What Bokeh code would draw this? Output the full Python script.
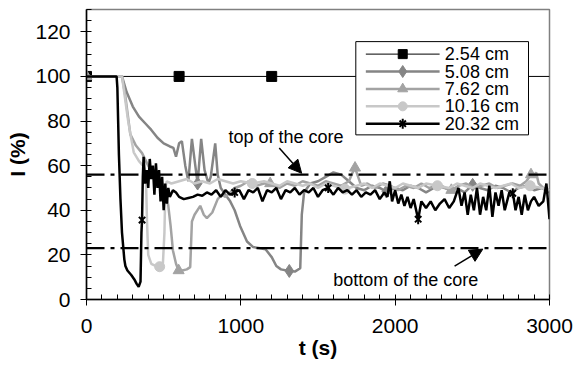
import math
from bokeh.plotting import figure
from bokeh.models import Range1d, FixedTicker, Span, Label, Arrow, NormalHead
from bokeh.core.properties import value
from bokeh.embed import file_html
from bokeh.resources import INLINE

FONT = "Liberation Sans"

# ---------------- data ----------------
x_ticks = [0, 1000, 2000, 3000]
y_ticks = [0, 20, 40, 60, 80, 100, 120]

labels = ["2.54 cm", "5.08 cm", "7.62 cm", "10.16 cm", "20.32 cm"]

t_254 = [0, 3000]
i_254 = [100, 100]
mt_254 = [0, 600, 1200, 1800, 2400]
mi_254 = [100, 100, 100, 100, 100]

t_508 = [0, 230, 260, 300, 340, 380, 420, 460, 500, 540, 563, 580, 600, 618, 640, 660,
         683, 705, 720, 743, 765, 790, 805, 834, 850, 870, 900, 931, 960, 995, 1040, 1080,
         1125, 1160, 1200, 1230, 1260, 1314, 1350, 1385, 1395, 1410, 1450, 1500, 1550, 1600,
         1650, 1700, 1750, 1800, 1850, 1900, 1943, 2000, 2050, 2100, 2150, 2200, 2250, 2300,
         2350, 2400, 2450, 2502, 2550, 2600, 2650, 2700, 2750, 2800, 2850, 2900, 2950, 3000]
i_508 = [100, 100, 93, 86.5, 82, 79, 76, 72.5, 70, 68.6, 68, 64, 70, 71, 60, 53,
         72, 60, 52, 72, 58, 52, 55, 70, 56, 50, 47, 44, 40, 33, 26, 23.5,
         23, 22.5, 19, 15, 13.5, 12.8, 12.5, 14, 38, 48, 52, 53, 55, 57,
         56, 53, 50, 49, 51, 50, 48.4, 50, 49, 51, 50, 48, 50, 51,
         49, 50, 48, 51.4, 50, 49, 51, 50, 48, 50, 51, 49, 50, 48]
mt_508 = [720, 1314, 1943, 2502]
mi_508 = [52, 12.8, 48.4, 51.4]

t_762 = [0, 230, 250, 284, 320, 360, 400, 440, 470, 490, 510, 530, 545, 560, 580, 597,
         620, 650, 672, 683, 700, 737, 760, 780, 815, 850, 877, 900, 931, 960, 1000, 1050,
         1100, 1150, 1190, 1250, 1300, 1350, 1400, 1450, 1500, 1550, 1600, 1650, 1700, 1725,
         1740, 1760, 1780, 1820, 1870, 1920, 1970, 2020, 2070, 2120, 2170, 2220, 2270, 2320,
         2364, 2410, 2460, 2510, 2560, 2610, 2660, 2710, 2760, 2810, 2850, 2880, 2900, 2913,
         2930, 2960, 3000]
i_762 = [100, 100, 92, 74, 69, 65.6, 60, 55, 53.6, 52, 50, 42, 33, 22, 16, 13,
         13, 13.5, 14.5, 35, 38, 42, 38, 36.5, 39, 45, 47, 46, 48, 50, 51, 53,
         51, 52, 52, 50, 52, 51, 53, 52, 51, 53, 52, 51, 53, 57,
         59, 55, 51, 52, 50, 52, 51, 49, 51, 50, 52, 50, 51, 50,
         49, 51, 52, 50, 51, 52, 50, 51, 52, 51, 53, 56, 55, 57,
         52, 50, 49]
mt_762 = [0, 597, 1190, 1740, 2364, 2880]
mi_762 = [100, 13, 52, 59, 49, 56]

t_1016 = [0, 230, 250, 270, 290, 306, 340, 370, 385, 392, 400, 420, 450, 474, 495, 505,
          511, 520, 550, 600, 650, 700, 750, 800, 850, 900, 950, 1000, 1074, 1150, 1200, 1250,
          1300, 1350, 1400, 1450, 1500, 1550, 1600, 1674, 1750, 1800, 1850, 1900, 1950, 2000,
          2050, 2100, 2150, 2200, 2274, 2350, 2400, 2450, 2500, 2550, 2600, 2650, 2700, 2750,
          2800, 2874, 2950, 3000]
i_1016 = [100, 100, 90, 80, 72, 66, 62, 59.6, 55, 35, 20, 16, 15, 14.7, 16, 30,
          50, 53, 52, 53, 54, 52, 53, 52, 54, 53, 52, 53, 52, 53, 52, 51,
          53, 52, 51, 52, 50, 52, 51, 49.5, 51, 52, 50, 52, 51, 50,
          52, 51, 50, 52, 51, 50, 52, 51, 50, 52, 51, 50, 51, 52,
          50, 51, 50, 49]
mt_1016 = [474, 1074, 1674, 2274, 2874]
mi_1016 = [14.7, 52, 49.5, 51, 51]

t_2032 = [0, 195, 200, 205, 210, 220, 230, 245, 252, 265, 290, 310, 325, 338, 350, 356,
          360, 365, 370, 380, 390, 400, 410, 420, 430, 440, 450, 460, 470, 480, 490, 500,
          510, 520, 530, 540, 560, 580, 600, 630, 660, 690, 720, 750, 780, 810, 840, 870,
          900, 930, 960, 990, 1020, 1050, 1080, 1110, 1140, 1170, 1200, 1230, 1260, 1290, 1320,
          1350, 1380, 1410, 1440, 1470, 1500, 1530, 1566, 1600, 1630, 1660, 1690, 1720, 1750,
          1780, 1810, 1840, 1870, 1900, 1930, 1950, 1965, 1980, 2000, 2020, 2040, 2060, 2080,
          2100, 2120, 2149, 2170, 2200, 2230, 2260, 2290, 2320, 2350, 2380, 2410, 2430, 2450,
          2470, 2490, 2510, 2530, 2550, 2570, 2590, 2610, 2630, 2650, 2670, 2690, 2710, 2740,
          2762, 2780, 2800, 2820, 2840, 2860, 2880, 2900, 2930, 2960, 2980, 3000]
i_2032 = [100, 100, 95, 80, 65, 45, 30, 18, 15, 13, 11, 9, 7, 5.7, 8, 30,
          36, 55, 64, 52, 58, 50, 63, 54, 60, 47, 61, 50, 58, 44, 55, 40,
          52, 43, 50, 46, 49, 48, 46, 45, 45.5, 46, 47, 46.5, 48, 47, 49, 46,
          49, 47, 48, 49, 45, 49, 48, 50, 44, 49, 48, 50, 45, 49, 48,
          50, 47, 49, 48, 50, 46, 49, 50, 47, 50, 48, 49, 47, 49,
          46, 48, 47, 49, 45, 48, 46, 53, 44, 49, 43, 47, 42, 46,
          41, 45, 36, 44, 41, 44, 40, 43, 45, 41, 44, 50, 42, 48,
          38, 47, 40, 50, 38, 46, 40, 51, 37, 48, 42, 49, 40, 48,
          48, 40, 46, 38, 47, 40, 44, 46, 42, 44, 52, 36]
mt_2032 = [360, 960, 1566, 2149, 2762]
mi_2032 = [35.6, 48, 50, 36, 47.6]

core_top = 56
core_bottom = 23

# ---------------- layout constants (legend box placed in data space) ----------------
LEG_LEFT, LEG_RIGHT = 1745, 2864
LEG_BOTTOM, LEG_TOP = 73.8, 115.6
LEG_ROWS = [110.0, 102.2, 94.4, 86.6, 78.8]
LEG_LINE0, LEG_LINE1, LEG_MARK, LEG_TEXT = 1810, 2288, 2049, 2322

# ---------------- figure ----------------
p = figure(width=585, height=368, output_backend="svg", toolbar_location=None,
           x_range=Range1d(0, 3000), y_range=Range1d(0, 130),
           min_border_left=86, min_border_right=36, min_border_top=9, min_border_bottom=69,
           x_axis_label="t (s)", y_axis_label="I (%)")
p.xgrid.visible = False
p.ygrid.visible = False
p.background_fill_color = "white"
p.border_fill_color = "white"
p.outline_line_color = "#808080"
p.outline_line_width = 1.5

p.xaxis.ticker = FixedTicker(ticks=x_ticks, minor_ticks=list(range(0, 3001, 100)))
p.yaxis.ticker = FixedTicker(ticks=y_ticks, minor_ticks=list(range(0, 131, 5)))
for ax in (p.xaxis[0], p.yaxis[0]):
    ax.major_label_text_font = FONT
    ax.major_label_text_font_size = "21px"
    ax.major_label_text_color = "black"
    ax.axis_label_text_font = FONT
    ax.axis_label_text_font_size = "21px"
    ax.axis_label_text_font_style = "bold"
    ax.axis_label_text_color = "black"
    ax.axis_line_color = "black"
    ax.axis_line_width = 1.5
    ax.major_tick_line_color = "black"
    ax.minor_tick_line_color = "black"
    ax.major_tick_in = 0
    ax.major_tick_out = 6
    ax.minor_tick_in = 5
    ax.minor_tick_out = 0
p.xaxis.major_label_standoff = 13
p.yaxis.major_label_standoff = 10
p.xaxis.axis_label_standoff = 0
p.yaxis.axis_label_standoff = 3

C508 = "#858585"
C762 = "#a3a3a3"
C1016 = "#c8c8c8"

# core lines
p.add_layout(Span(location=core_top, dimension="width", line_color="black",
                  line_width=2.2, line_dash="18 6 4 6"))
p.add_layout(Span(location=core_bottom, dimension="width", line_color="black",
                  line_width=2.2, line_dash="18 6 4 6"))

styles = [
    dict(color="black", width=1, marker="square", size=10),
    dict(color=C508, width=2.5, marker="diamond", size=13),
    dict(color=C762, width=2.5, marker="triangle", size=11),
    dict(color=C1016, width=2.5, marker="circle", size=10),
    dict(color="black", width=2.5, marker="x", size=9),
]
series = [(t_254, i_254, mt_254, mi_254), (t_508, i_508, mt_508, mi_508),
          (t_762, i_762, mt_762, mi_762), (t_1016, i_1016, mt_1016, mi_1016),
          (t_2032, i_2032, mt_2032, mi_2032)]

for (t, i, mt, mi), st in zip(series, styles):
    p.line(t, i, line_color=st["color"], line_width=st["width"])
    if st["marker"] == "x":
        p.scatter(mt, mi, marker="x", size=st["size"], line_color="black", line_width=2)
        p.scatter(mt, mi, marker="dash", size=10, angle=math.pi / 2,
                  line_color="black", line_width=2)
    else:
        p.scatter(mt, mi, marker=st["marker"], size=st["size"],
                  fill_color=st["color"], line_color=st["color"])

# legend (drawn by hand so rows are as tight as in the original)
p.quad(left=[LEG_LEFT], right=[LEG_RIGHT], bottom=[LEG_BOTTOM], top=[LEG_TOP],
       fill_color="white", line_color="black", line_width=1)
for lab, row, st in zip(labels, LEG_ROWS, styles):
    p.segment(x0=[LEG_LINE0], y0=[row], x1=[LEG_LINE1], y1=[row],
              line_color=st["color"], line_width=st["width"])
    if st["marker"] == "x":
        p.scatter([LEG_MARK], [row], marker="x", size=9, line_color="black", line_width=2)
        p.scatter([LEG_MARK], [row], marker="dash", size=10, angle=math.pi / 2,
                  line_color="black", line_width=2)
    else:
        p.scatter([LEG_MARK], [row], marker=st["marker"], size=st["size"] - 1,
                  fill_color=st["color"], line_color=st["color"])
    p.text([LEG_TEXT], [row], text=[lab], text_font=value(FONT), text_font_size="18px",
           text_color="black", text_baseline="middle", text_align="left")

# annotations
p.add_layout(Label(x=920, y=73, text="top of the core", text_font=FONT,
                   text_font_size="18px", text_color="black", text_baseline="middle"))
p.add_layout(Arrow(x_start=1249, y_start=67.9, x_end=1394, y_end=56.6,
                   line_color="black", line_width=1.5,
                   end=NormalHead(size=13, fill_color="black", line_color="black")))
p.add_layout(Label(x=1599, y=8.7, text="bottom of the core", text_font=FONT,
                   text_font_size="18px", text_color="black", text_baseline="middle"))
p.add_layout(Arrow(x_start=2385, y_start=15, x_end=2568, y_end=22.6,
                   line_color="black", line_width=1.5,
                   end=NormalHead(size=13, fill_color="black", line_color="black")))

open("out.html", "w").write(file_html(p, INLINE))
